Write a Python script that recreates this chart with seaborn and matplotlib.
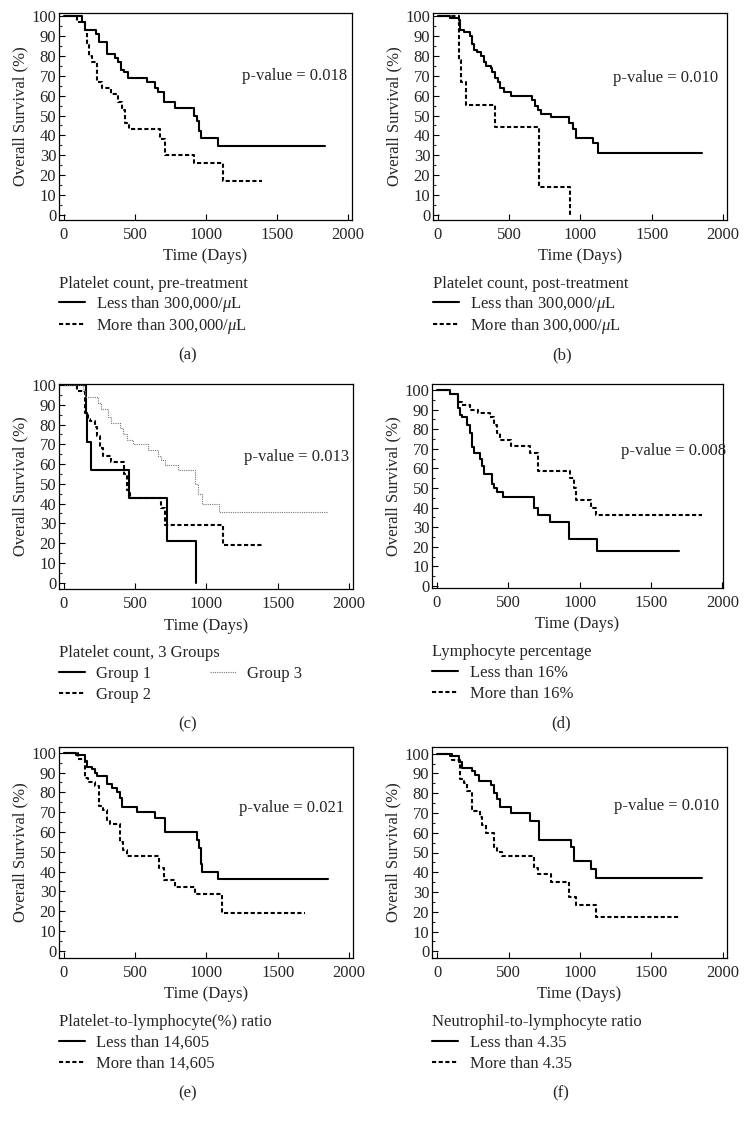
import seaborn as sns
import matplotlib.pyplot as plt
import pandas as pd

# --- Kaplan-Meier step values (days, survival %) ---
# (a) platelet count, pre-treatment
a_less_t = [0, 124, 150, 222, 245, 300, 362, 380, 402, 425, 451, 585, 643, 665, 702, 784, 919, 935, 950, 965, 1081, 1836]
a_less_s = [100, 97, 93, 91, 87, 81, 79, 77, 73, 72, 69, 67, 64, 62, 57, 54, 50, 47, 42, 38.5, 34.5, 34.5]
a_more_t = [0, 91, 145, 160, 175, 200, 234, 269, 334, 379, 409, 428, 456, 674, 709, 919, 1118, 1392]
a_more_s = [100, 97, 93, 86, 80, 77, 67, 64, 61, 57, 53, 46, 43, 38, 30, 26, 17, 17]

# (b) platelet count, post-treatment
b_less_t = [0, 86, 150, 157, 180, 227, 240, 250, 275, 300, 320, 335, 370, 380, 400, 420, 435, 460, 510,
            660, 680, 700, 720, 795, 920, 945, 970, 1085, 1120, 1850]
b_less_s = [100, 99, 98, 93, 92, 90, 86, 83, 82, 80, 77, 75, 74, 72, 69, 67, 64, 62, 60,
            58, 55, 53, 51, 49, 46, 43, 38.5, 36, 31, 31]
b_more_t = [0, 150, 162, 195, 400, 710, 925]
b_more_s = [100, 78, 67, 55.5, 44, 14, 0]

# (c) platelet count, 3 groups
c_g1_t = [0, 152, 162, 192, 455, 720, 927]
c_g1_s = [100, 86, 71, 57, 43, 21, 0]
c_g2_t = [0, 90, 150, 165, 180, 215, 232, 250, 275, 333, 420, 445, 465, 680, 710, 1115, 1390]
c_g2_s = [100, 97, 86, 83, 82, 79, 74, 68, 64, 61, 55, 47, 43, 38, 29, 19, 19]
c_g3_t = [0, 133, 145, 240, 262, 310, 330, 392, 415, 440, 485, 590, 660, 680, 710, 800, 920, 940, 965, 1090, 1850]
c_g3_s = [100, 97, 94, 91, 88, 84, 81, 78, 75, 72, 70, 67, 64, 62, 59.5, 57, 50, 45, 40, 36, 36]

# (d) lymphocyte percentage
d_less_t = [0, 89, 145, 159, 175, 210, 229, 246, 262, 300, 316, 328, 386, 398, 422, 462, 680, 705, 790, 925, 1120, 1700]
d_less_s = [100, 98, 91, 87, 86, 82, 78, 71, 68, 65, 61, 57, 52, 50, 48, 45.5, 40, 36, 32.5, 24, 18, 18]
d_more_t = [0, 89, 145, 175, 234, 285, 370, 400, 420, 440, 520, 650, 710, 935, 960, 975, 1080, 1116, 1860]
d_more_s = [100, 98, 94, 92.5, 90, 88, 86, 82, 78, 74.5, 71.5, 68, 58.5, 55, 50, 44, 40, 36, 36]

# (e) platelet-to-lymphocyte(%) ratio
e_less_t = [0, 87, 145, 160, 200, 215, 230, 300, 335, 370, 390, 410, 515, 640, 707, 936, 948, 960, 969, 1078, 1850]
e_less_s = [100, 99, 96, 93, 92, 90, 88, 84, 82, 80, 77, 72.5, 70, 67, 60, 56, 52, 44, 40, 36, 36]
e_more_t = [0, 98, 145, 168, 215, 245, 273, 300, 320, 390, 415, 440, 670, 705, 780, 920, 1110, 1690]
e_more_s = [100, 97, 87, 85, 83, 73, 71, 66, 64, 55, 51, 48, 42, 35.5, 32, 28.5, 19, 19]

# (f) neutrophil-to-lymphocyte ratio
f_less_t = [0, 94, 152, 176, 246, 269, 293, 379, 400, 421, 440, 520, 650, 710, 940, 960, 1080, 1115, 1850]
f_less_s = [100, 99, 96, 93, 91, 89, 86, 84, 80, 77, 73, 70, 66, 56.5, 53, 45.5, 41.5, 37, 37]
f_more_t = [0, 105, 160, 187, 210, 246, 300, 316, 340, 400, 420, 455, 675, 705, 795, 920, 970, 1110, 1690]
f_more_s = [100, 97, 87, 85, 81, 71, 68, 64, 60, 53, 50.5, 48, 42, 39, 35, 27.5, 23.5, 17.5, 17.5]

p_values = ["0.018", "0.010", "0.013", "0.008", "0.021", "0.010"]
legend_titles = ["Platelet count, pre-treatment", "Platelet count, post-treatment",
                 "Platelet count, 3 Groups", "Lymphocyte percentage",
                 "Platelet-to-lymphocyte(%) ratio", "Neutrophil-to-lymphocyte ratio"]
panel_tags = ["(a)", "(b)", "(c)", "(d)", "(e)", "(f)"]

SOLID = dict(color="black", linewidth=1.5, linestyle="-")
DASHED = dict(color="black", linewidth=1.5, dashes=(2.0, 1.2))
DOTTED = dict(color="#777777", linewidth=0.8, dashes=(1.0, 1.0))

panels = [
    [(a_less_t, a_less_s, "Less than 300,000/$\\mu$L", SOLID),
     (a_more_t, a_more_s, "More than 300,000/$\\mu$L", DASHED)],
    [(b_less_t, b_less_s, "Less than 300,000/$\\mu$L", SOLID),
     (b_more_t, b_more_s, "More than 300,000/$\\mu$L", DASHED)],
    [(c_g1_t, c_g1_s, "Group 1", SOLID),
     (c_g2_t, c_g2_s, "Group 2", DASHED),
     (c_g3_t, c_g3_s, "Group 3", DOTTED)],
    [(d_less_t, d_less_s, "Less than 16%", SOLID),
     (d_more_t, d_more_s, "More than 16%", DASHED)],
    [(e_less_t, e_less_s, "Less than 14,605", SOLID),
     (e_more_t, e_more_s, "More than 14,605", DASHED)],
    [(f_less_t, f_less_s, "Less than 4.35", SOLID),
     (f_more_t, f_more_s, "More than 4.35", DASHED)],
]

# axes boxes in pixels: left, top, right, bottom
W, H = 748, 1123
boxes = [(59, 13, 352, 220), (433, 13, 727, 220),
         (59, 384, 353, 589), (432, 384, 723, 588),
         (59, 747, 353, 958), (432, 747, 727, 958)]
ylims = [(-2.5, 101.5), (-2.5, 101.5), (-3.2, 100.5), (-1, 103), (-3.7, 102.9), (-3.4, 103.4)]
xlims = [(-35, 2028), (-35, 2028), (-35, 2028), (-35, 2005), (-35, 2028), (-35, 2028)]
pval_pos = [(1255, 70), (1230, 69), (1265, 63.5), (1287, 69), (1225, 72), (1240, 73.5)]
leg_spacing = [0.12, 0.12, 0.3, 0.3, 0.3, 0.3]

sns.set_style("ticks")
plt.rcParams["font.family"] = ["Liberation Serif", "DejaVu Serif"]
plt.rcParams["mathtext.fontset"] = "custom"
plt.rcParams["mathtext.it"] = "Liberation Serif:italic"
plt.rcParams["mathtext.rm"] = "Liberation Serif"
FS = 12

fig = plt.figure(figsize=(W / 100, H / 100), dpi=100)

for i, (box, curves) in enumerate(zip(boxes, panels)):
    l, t, r, b = box
    ax = fig.add_axes([l / W, 1 - b / H, (r - l) / W, (b - t) / H])
    for times, surv, label, style in curves:
        df = pd.DataFrame({"Time": times, "Survival": surv})
        sns.lineplot(data=df, x="Time", y="Survival", ax=ax, estimator=None, sort=False,
                     drawstyle="steps-post", label=label, **style)
    ax.set_xlim(*xlims[i])
    ax.set_ylim(*ylims[i])
    ax.set_xticks([0, 500, 1000, 1500, 2000])
    ax.set_yticks(range(0, 101, 10))
    ax.set_yticks(range(5, 100, 10), minor=True)
    ax.tick_params(axis="both", direction="in", labelsize=FS, width=0.8, length=4, color="black")
    ax.tick_params(axis="x", pad=5)
    ax.tick_params(axis="y", pad=2)
    ax.tick_params(axis="y", which="minor", direction="in", length=2, width=0.8)
    for sp in ax.spines.values():
        sp.set_visible(True)
        sp.set_linewidth(0.9)
        sp.set_color("black")
    ax.set_xlabel("Time (Days)", fontsize=FS, labelpad=4)
    ax.set_ylabel("Overall Survival (%)", fontsize=FS, labelpad=2)
    ax.text(*pval_pos[i], "p-value = " + p_values[i], fontsize=FS, ha="left", va="center")

    h_px = b - t
    w_px = r - l
    ax.legend(loc="upper left", bbox_to_anchor=(0, -56 / h_px), frameon=False,
              title=legend_titles[i], title_fontsize=FS, fontsize=FS,
              alignment="left", borderpad=0, borderaxespad=0,
              handlelength=1.55, handletextpad=0.7, labelspacing=leg_spacing[i],
              ncol=2 if len(curves) == 3 else 1, columnspacing=3.5)
    ax.text(0.44 * 293 / w_px, -(355 - 220) / h_px, panel_tags[i], transform=ax.transAxes,
            fontsize=FS, ha="center", va="center")

fig.savefig("out.png", dpi=100)
plt.close(fig)
